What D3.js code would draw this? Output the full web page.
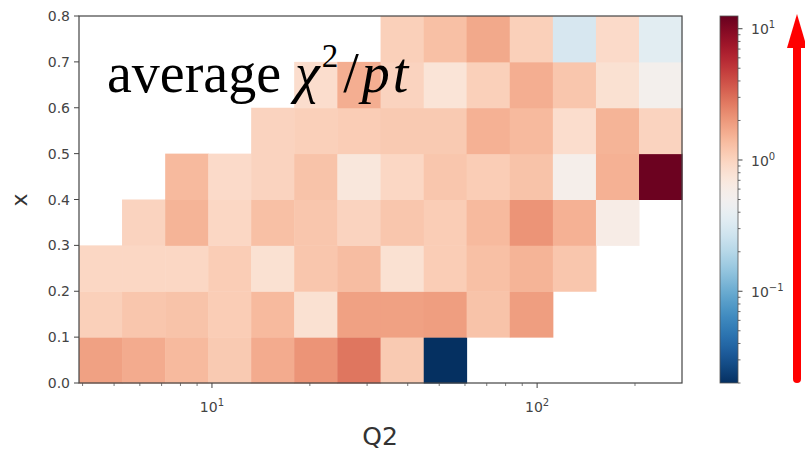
<html>
<head>
<script src="https://d3js.org/d3.v7.min.js"></script>
<style>
  body { margin: 0; background: #fff; }
  svg { display: block; }
  .tick-label { font-family: "DejaVu Sans", sans-serif; font-size: 14px; fill: #444; }
  .axis-title { font-family: "DejaVu Sans", sans-serif; fill: #333; }
</style>
</head>
<body>
<script>
// ---------------------------------------------------------------
// data
// ---------------------------------------------------------------
var q2Edges = [3.9, 5.29, 7.18, 9.74, 13.2, 17.9, 24.3, 33.0, 44.8, 60.7, 82.4, 111.8, 151.7, 205.8, 279];
var xEdges  = [0.0, 0.1, 0.2, 0.3, 0.4, 0.5, 0.6, 0.7, 0.8];

// average chi2/pt, one array per x bin (low x first), one entry per Q2 bin
var chiX00 = [1.85, 1.65, 1.4, 1.15, 1.65, 2.1, 2.8, 1.15, 0.02, null, null, null, null, null];
var chiX01 = [1.05, 1.2, 1.25, 1.1, 1.4, 0.8, 1.85, 1.85, 1.9, 1.25, 1.9, null, null, null];
var chiX02 = [0.95, 0.95, 0.95, 1.1, 0.8, 1.2, 1.35, 0.8, 1.1, 1.3, 1.5, 1.2, null, null];
var chiX03 = [null, 1.0, 1.5, 0.95, 1.3, 1.2, 1.0, 1.2, 1.1, 1.4, 2.1, 1.55, 0.6, null];
var chiX04 = [null, null, 1.4, 0.9, 1.0, 1.25, 0.7, 0.95, 1.2, 1.1, 1.25, 0.55, 1.55, 12];
var chiX05 = [null, null, null, null, 1.0, 1.05, 1.1, 1.15, 1.15, 1.55, 1.4, 0.85, 1.5, 1.0];
var chiX06 = [null, null, null, null, null, 0.85, 1.6, 1.0, 0.75, 1.05, 1.6, 1.2, 0.8, 0.52];
var chiX07 = [null, null, null, null, null, null, null, 1.05, 1.3, 1.7, 1.05, 0.3, 0.9, 0.36];

var yTicks  = [0.0, 0.1, 0.2, 0.3, 0.4, 0.5, 0.6, 0.7, 0.8];
var q2Major = [10, 100];
var q2Minor = [4, 5, 6, 7, 8, 9, 20, 30, 40, 50, 60, 70, 80, 90, 200];
var cbMajor = [0.1, 1, 10];
var cbExpo  = ["\u22121", "0", "1"];
var cbRange = [0.02, 12.5];

// ---------------------------------------------------------------
var W = 805, H = 453;
var plot = { left: 79, right: 682, top: 16, bottom: 383 };
var cb   = { left: 720, right: 738 };

var svg = d3.select("body").append("svg").attr("width", W).attr("height", H);

var xscale = d3.scaleLog().domain([q2Edges[0], q2Edges[q2Edges.length - 1]]).range([plot.left, plot.right]);
var yscale = d3.scaleLinear().domain([0, 0.8]).range([plot.bottom, plot.top]);
var color  = d3.scaleSequentialLog(function (t) { return d3.interpolateRdBu(1 - t); }).domain(cbRange);

var rows = [chiX00, chiX01, chiX02, chiX03, chiX04, chiX05, chiX06, chiX07];
var cells = [];
rows.forEach(function (row, j) {
  row.forEach(function (v, i) {
    if (v !== null) cells.push({ i: i, j: j, v: v });
  });
});

svg.append("g").selectAll("rect").data(cells).enter().append("rect")
  .attr("x", function (d) { return xscale(q2Edges[d.i]); })
  .attr("y", function (d) { return yscale(xEdges[d.j + 1]); })
  .attr("width", function (d) { return xscale(q2Edges[d.i + 1]) - xscale(q2Edges[d.i]) + 0.5; })
  .attr("height", function (d) { return yscale(xEdges[d.j]) - yscale(xEdges[d.j + 1]) + 0.5; })
  .attr("fill", function (d) { return color(d.v); });

// frame
svg.append("rect")
  .attr("x", plot.left).attr("y", plot.top)
  .attr("width", plot.right - plot.left).attr("height", plot.bottom - plot.top)
  .attr("fill", "none").attr("stroke", "#444").attr("stroke-width", 1.2);

// y axis
var yAx = svg.append("g");
yAx.selectAll("line").data(yTicks).enter().append("line")
  .attr("x1", plot.left - 5).attr("x2", plot.left)
  .attr("y1", function (d) { return yscale(d); }).attr("y2", function (d) { return yscale(d); })
  .attr("stroke", "#444");
yAx.selectAll("text").data(yTicks).enter().append("text")
  .attr("class", "tick-label")
  .attr("x", plot.left - 9).attr("y", function (d) { return yscale(d); })
  .attr("dy", "0.36em").attr("text-anchor", "end")
  .text(function (d) { return d.toFixed(1); });

// x axis
var xAx = svg.append("g");
xAx.selectAll("line.major").data(q2Major).enter().append("line")
  .attr("x1", function (d) { return xscale(d); }).attr("x2", function (d) { return xscale(d); })
  .attr("y1", plot.bottom).attr("y2", plot.bottom + 5).attr("stroke", "#444");
xAx.selectAll("line.minor").data(q2Minor).enter().append("line")
  .attr("x1", function (d) { return xscale(d); }).attr("x2", function (d) { return xscale(d); })
  .attr("y1", plot.bottom).attr("y2", plot.bottom + 3).attr("stroke", "#555").attr("stroke-width", 0.8);
var xl = xAx.selectAll("text").data(q2Major).enter().append("text")
  .attr("class", "tick-label")
  .attr("x", function (d) { return xscale(d); }).attr("y", plot.bottom + 29)
  .attr("text-anchor", "middle");
xl.append("tspan").text("10");
xl.append("tspan").attr("dy", -6).style("font-size", "10px")
  .text(function (d) { return String(Math.round(Math.log10(d))); });

// axis titles
svg.append("text").attr("class", "axis-title")
  .attr("x", 380).attr("y", 445).attr("text-anchor", "middle")
  .style("font-size", "25px").text("Q2");
svg.append("text").attr("class", "axis-title")
  .attr("transform", "translate(27,200) rotate(-90)").attr("text-anchor", "middle")
  .style("font-size", "22px").text("x");

// annotation text
var serif = "'Liberation Serif', 'DejaVu Serif', serif";
var ann = svg.append("text")
  .attr("x", 107).attr("y", 92)
  .style("font-family", serif)
  .style("font-size", "56px").attr("fill", "#000");
ann.append("tspan").text("average ");
ann.append("tspan").style("font-family", serif).style("font-style", "italic").text("\u03c7");
ann.append("tspan").attr("dy", -25).attr("dx", 2).style("font-size", "33px").text("2");
ann.append("tspan").attr("dy", 25).attr("dx", 5).text("/");
ann.append("tspan").attr("dx", 3).style("font-family", serif).style("font-style", "italic")
  .style("letter-spacing", "3px").text("pt");

// colorbar
var cbScale = d3.scaleLog().domain(cbRange).range([plot.bottom, plot.top]);
var grad = svg.append("defs").append("linearGradient")
  .attr("id", "cbgrad").attr("x1", 0).attr("y1", 1).attr("x2", 0).attr("y2", 0);
d3.range(0, 1.0001, 0.02).forEach(function (t) {
  grad.append("stop").attr("offset", t).attr("stop-color", d3.interpolateRdBu(1 - t));
});
svg.append("rect")
  .attr("x", cb.left).attr("y", plot.top)
  .attr("width", cb.right - cb.left).attr("height", plot.bottom - plot.top)
  .attr("fill", "url(#cbgrad)").attr("stroke", "#555").attr("stroke-width", 0.8);

var cbMinor = [];
[0.01, 0.1, 1].forEach(function (dec) {
  [2, 3, 4, 5, 6, 7, 8, 9].forEach(function (m) {
    var v = dec * m;
    if (v >= cbRange[0] && v <= cbRange[1]) cbMinor.push(v);
  });
});
var cbAx = svg.append("g");
cbAx.selectAll("line.minor").data(cbMinor).enter().append("line")
  .attr("x1", cb.right).attr("x2", cb.right + 2.5)
  .attr("y1", function (d) { return cbScale(d); }).attr("y2", function (d) { return cbScale(d); })
  .attr("stroke", "#444").attr("stroke-width", 0.8);
cbAx.selectAll("line.major").data(cbMajor).enter().append("line")
  .attr("x1", cb.right).attr("x2", cb.right + 4.5)
  .attr("y1", function (d) { return cbScale(d); }).attr("y2", function (d) { return cbScale(d); })
  .attr("stroke", "#444");
var cl = cbAx.selectAll("text").data(cbMajor).enter().append("text")
  .attr("class", "tick-label")
  .attr("x", cb.right + 13).attr("y", function (d) { return cbScale(d); })
  .attr("dy", "0.4em");
cl.append("tspan").text("10");
cl.append("tspan").attr("dy", -6).style("font-size", "10px")
  .text(function (d, i) { return cbExpo[i]; });

// red arrow
svg.append("line")
  .attr("x1", 797).attr("y1", 379).attr("x2", 797).attr("y2", 46)
  .attr("stroke", "#ff0000").attr("stroke-width", 8).attr("stroke-linecap", "round");
svg.append("path")
  .attr("d", "M787,48 L797,14 L807,48 Z")
  .attr("fill", "#ff0000");
</script>
</body>
</html>
